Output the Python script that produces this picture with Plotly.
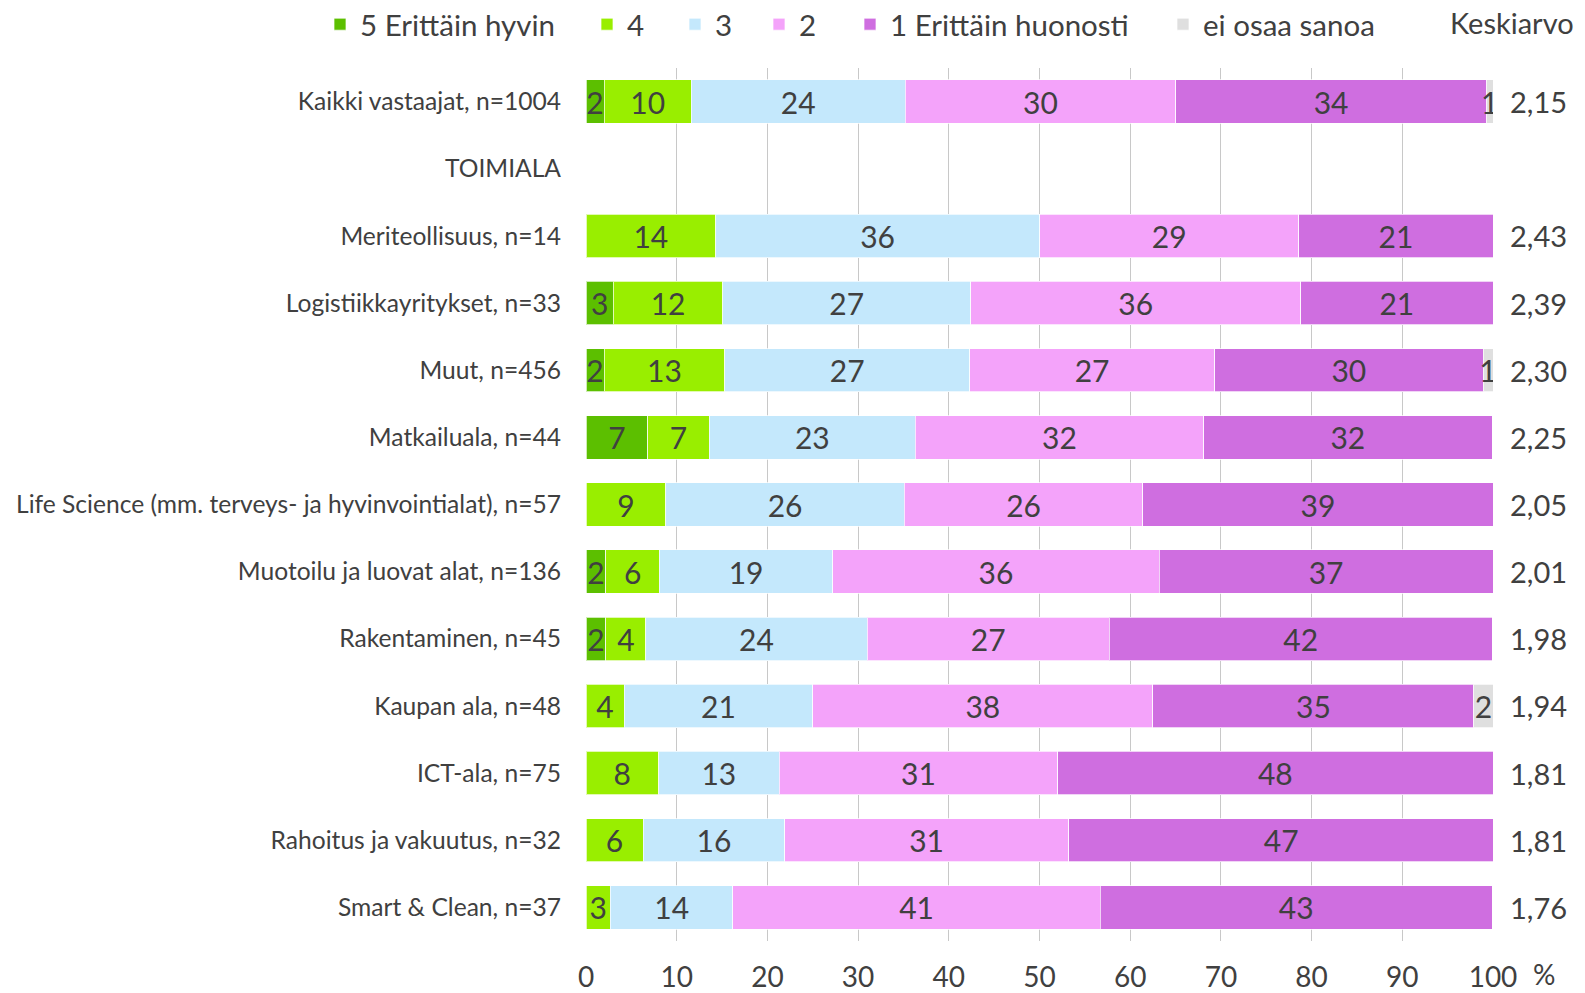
import plotly.graph_objects as go

# ---------------- data ----------------
categories = [
    "Kaikki vastaajat, n=1004",
    "TOIMIALA",
    "Meriteollisuus, n=14",
    "Logistiikkayritykset, n=33",
    "Muut, n=456",
    "Matkailuala, n=44",
    "Life Science (mm. terveys- ja hyvinvointialat), n=57",
    "Muotoilu ja luovat alat, n=136",
    "Rakentaminen, n=45",
    "Kaupan ala, n=48",
    "ICT-ala, n=75",
    "Rahoitus ja vakuutus, n=32",
    "Smart & Clean, n=37",
]

series_names = ["5 Erittäin hyvin", "4", "3", "2", "1 Erittäin huonosti", "ei osaa sanoa"]

s5 = [2.0, None, None, 3.0, 2.0, 6.8, None, 2.2, 2.2, None, None, None, None]
s4 = [9.6, None, 14.3, 12.1, 13.3, 6.8, 8.8, 5.9, 4.4, 4.2, 8.0, 6.3, 2.7]
s3 = [23.6, None, 35.7, 27.3, 27.0, 22.7, 26.3, 19.1, 24.4, 20.8, 13.3, 15.6, 13.5]
s2 = [29.8, None, 28.6, 36.4, 27.0, 31.8, 26.3, 36.0, 26.7, 37.5, 30.7, 31.3, 40.5]
s1 = [34.3, None, 21.4, 21.2, 29.6, 31.8, 38.6, 36.8, 42.2, 35.4, 48.0, 46.9, 43.2]
s_eos = [0.7, None, None, None, 1.1, None, None, None, None, 2.1, None, None, None]

keskiarvo = ["2,15", "", "2,43", "2,39", "2,30", "2,25", "2,05", "2,01", "1,98", "1,94", "1,81", "1,81", "1,76"]

x_ticks = [0, 10, 20, 30, 40, 50, 60, 70, 80, 90, 100]

# ---------------- styling ----------------
colors = ["#5CBF00", "#99EE00", "#C4E8FC", "#F4A3FA", "#CF6EE0", "#DFDFDF"]
FONT = "Lato"
TXT = "#404040"

W, H = 1585, 993
PL, PR, PT, PB = 586, 1493, 68, 941   # plot area in pixels

# legend entries (px, left of each legend block)
legend_x = [320, 587, 675, 759, 850, 1163]
legend_cy = 24.5

fig = go.Figure()

all_series = [s5, s4, s3, s2, s1, s_eos]
for i, (name, vals, col) in enumerate(zip(series_names, all_series, colors)):
    fig.add_trace(go.Bar(
        y=categories,
        x=vals,
        name=name,
        orientation="h",
        marker=dict(color=col, line=dict(color="rgba(255,255,255,0.7)", width=1)),
        texttemplate="%{x:.0f}",
        textposition="inside",
        insidetextanchor="middle",
        textangle=0,
        constraintext="none",
        insidetextfont=dict(family=FONT, size=30, color=TXT),
        legend="legend" if i == 0 else f"legend{i+1}",
        hoverinfo="skip",
    ))

# Keskiarvo column
for cat, val in zip(categories, keskiarvo):
    if val:
        fig.add_annotation(
            x=1, xref="paper", y=cat, yref="y",
            text=val, showarrow=False, xanchor="left", xshift=15,
            font=dict(family=FONT, size=29, color=TXT),
        )

# header "Keskiarvo"
fig.add_annotation(
    x=(1448 - PL) / (PR - PL), xref="paper",
    y=(PB - 23) / (PB - PT), yref="paper",
    text="Keskiarvo", showarrow=False, xanchor="left", yanchor="middle",
    font=dict(family=FONT, size=29, color=TXT),
)

# "%" unit next to the x axis
fig.add_annotation(
    x=1, xref="paper", y=0, yref="paper",
    text="%", showarrow=False, xanchor="left", yanchor="top",
    xshift=38, yshift=-14,
    font=dict(family=FONT, size=28, color=TXT),
)

layout_legends = {}
for i, lx in enumerate(legend_x):
    key = "legend" if i == 0 else f"legend{i+1}"
    layout_legends[key] = dict(
        orientation="h",
        xref="container", yref="container",
        x=lx / W, y=1 - legend_cy / H,
        xanchor="left", yanchor="middle",
        font=dict(family=FONT, size=29.5, color=TXT),
        bgcolor="rgba(0,0,0,0)",
        itemclick=False, itemdoubleclick=False,
    )

fig.update_layout(
    width=W, height=H,
    autosize=False,
    barmode="stack",
    bargap=0.354,
    plot_bgcolor="white",
    paper_bgcolor="white",
    margin=dict(l=PL, r=W - PR, t=PT, b=H - PB, autoexpand=False),
    font=dict(family=FONT, color=TXT),
    showlegend=True,
    **layout_legends,
)

fig.update_xaxes(
    range=[0, 100],
    tickvals=x_ticks,
    showgrid=True, gridcolor="#C8C8C8", gridwidth=1,
    zeroline=False,
    showline=False,
    ticks="",
    ticklabelstandoff=17,
    tickfont=dict(family=FONT, size=28, color=TXT),
    automargin=False,
    fixedrange=True,
)
fig.update_yaxes(
    type="category",
    categoryorder="array",
    categoryarray=categories,
    autorange="reversed",
    showgrid=False,
    ticks="",
    ticklabelstandoff=24,
    tickfont=dict(family=FONT, size=24.6, color=TXT),
    automargin=False,
    fixedrange=True,
)

fig.write_html(
    "out.html",
    config={"displayModeBar": False},
    post_script="document.body.style.margin='0';document.body.style.overflow='hidden';",
)
